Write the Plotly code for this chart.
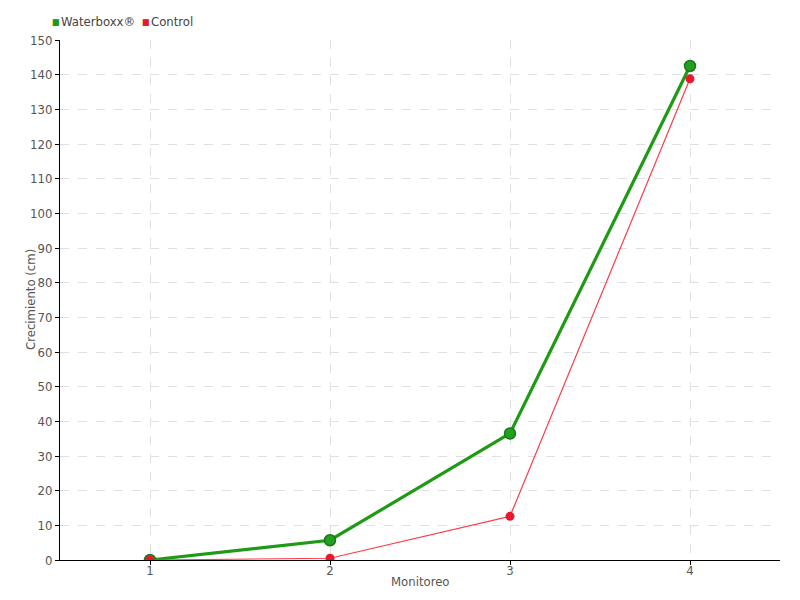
import plotly.graph_objects as go

monitoreo = [1, 2, 3, 4]
waterboxx = [0, 5.7, 36.5, 142.5]
control = [0, 0.5, 12.6, 138.8]
y_ticks = list(range(0, 151, 10))
series_names = ["Waterboxx®", "Control"]
series_colors = ["#1f9a14", "#e8192c"]
x_title = "Monitoreo"
y_title = "Crecimiento (cm)"

FONT = "DejaVu Sans Condensed, Liberation Sans Narrow, sans-serif"

fig = go.Figure()
fig.add_trace(go.Scatter(
    x=monitoreo, y=waterboxx, name=series_names[0], mode="lines+markers",
    line=dict(color="#1f9a14", width=3.2),
    marker=dict(size=11, color="#22a022", line=dict(color="#187a18", width=1.5)),
))
fig.add_trace(go.Scatter(
    x=monitoreo, y=control, name=series_names[1], mode="lines+markers",
    line=dict(color="#ff3a4a", width=1.2),
    marker=dict(size=9, color="#e8192c"),
))

# Page has an 8px body margin: plot area should land at x 60..780, y 40..560
OFF = 8
L, T = 60 - OFF, 40 - OFF
W, H = 800 - OFF, 600 - OFF
PW, PH = 720, 520

# legend drawn as annotations (square symbol + label)
sq_x = [50, 140]
lbl_x = [59, 149]
for name, col, sx, lx in zip(series_names, series_colors, sq_x, lbl_x):
    yd = 1 + (40 - 22) / PH
    fig.add_annotation(
        xref="x domain", yref="y domain", x=(sx - 60) / PW, y=yd,
        xanchor="left", yanchor="middle", showarrow=False,
        text="■", font=dict(family=FONT, size=9, color=col),
    )
    fig.add_annotation(
        xref="x domain", yref="y domain", x=(lx - 60) / PW, y=yd,
        xanchor="left", yanchor="middle", showarrow=False,
        text=name, font=dict(family=FONT, size=13, color="#444444"),
    )

# axis titles as annotations for exact placement
fig.add_annotation(
    xref="x domain", yref="y domain", x=(420 - 60) / PW, y=-(581 - 560) / PH,
    xanchor="center", yanchor="middle", showarrow=False,
    text=x_title, font=dict(family=FONT, size=13, color="#555555"),
)
fig.add_annotation(
    xref="x domain", yref="y domain", x=-(60 - 30) / PW, y=(560 - 300) / PH,
    xanchor="center", yanchor="middle", showarrow=False, textangle=-90,
    text=y_title, font=dict(family=FONT, size=13, color="#555555"),
)

fig.update_layout(
    width=W, height=H,
    margin=dict(l=L, r=W - L - PW, t=T, b=H - T - PH, autoexpand=False),
    plot_bgcolor="white", paper_bgcolor="white",
    font=dict(family=FONT, size=13, color="#555555"),
    showlegend=False,
)
fig.update_xaxes(
    range=[0.5, 4.5], tickvals=monitoreo, ticktext=[str(v) for v in monitoreo],
    showline=True, linecolor="black", linewidth=1,
    ticks="outside", ticklen=4, tickcolor="black", ticklabelstandoff=-6,
    showgrid=True, gridcolor="#e0e0e0", griddash="dash", gridwidth=1,
    zeroline=False, automargin=False,
)
fig.update_yaxes(
    range=[0, 150], tickvals=y_ticks,
    showline=True, linecolor="black", linewidth=1,
    ticks="outside", ticklen=4, tickcolor="black",
    showgrid=True, gridcolor="#e0e0e0", griddash="dash", gridwidth=1,
    zeroline=False, automargin=False,
)

fig.write_html("out.html")
